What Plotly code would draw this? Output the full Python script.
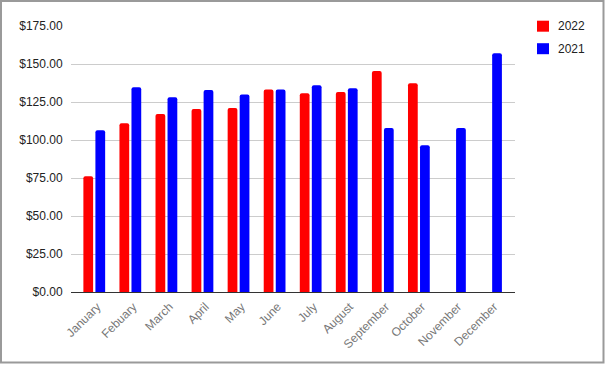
import plotly.graph_objects as go

months = ["January", "Febuary", "March", "April", "May", "June", "July",
          "August", "September", "October", "November", "December"]
sales_2022 = [76.1, 111.0, 117.1, 120.4, 121.1, 133.3, 130.7, 131.6, 145.4, 137.3, None, None]
sales_2021 = [106.4, 134.7, 128.1, 132.9, 130.0, 133.3, 136.0, 134.0, 107.9, 96.5, 107.9, 157.0]
series_names = ["2022", "2021"]
series_colors = ["#ff0000", "#0000ff"]
y_ticks = [0, 25, 50, 75, 100, 125, 150, 175]
y_tick_labels = ["$%.2f" % v for v in y_ticks]

W, H = 606, 365
L, R, T, B = 71, 515, 26, 292

fig = go.Figure()
for name, vals, col in zip(series_names, [sales_2022, sales_2021], series_colors):
    fig.add_trace(go.Bar(x=months, y=vals, name=name,
                         marker=dict(color=col, line_width=0)))

def px_x(x):
    return (x - L) / (R - L)

def px_y(y):
    return (B - y) / (B - T)

# outer chart border
fig.add_shape(type="rect", xref="paper", yref="paper",
              x0=px_x(1), x1=px_x(603.5), y0=px_y(362.5), y1=px_y(1),
              line=dict(color="#9a9a9a", width=2), fillcolor="rgba(0,0,0,0)", layer="above")

# legend (drawn manually for exact spacing)
for i, (name, col) in enumerate(zip(series_names, series_colors)):
    cy = 26.2 + 22.5 * i
    fig.add_shape(type="rect", xref="paper", yref="paper",
                  x0=px_x(537), x1=px_x(549), y0=px_y(cy + 5.5), y1=px_y(cy - 5.5),
                  line_width=0, fillcolor=col)
    fig.add_annotation(xref="paper", yref="paper", x=px_x(555.5), y=px_y(cy),
                       xanchor="left", yanchor="middle", text=name, showarrow=False,
                       font=dict(size=12, color="#222222"))

fig.update_layout(
    width=W, height=H,
    margin=dict(l=L, r=W - R, t=T, b=H - B, pad=0),
    paper_bgcolor="white", plot_bgcolor="white",
    barmode="group", bargap=0.333, bargroupgap=0.19, barcornerradius=2,
    font=dict(family="Arial, Liberation Sans, sans-serif", size=12, color="#222222"),
    showlegend=False,
    xaxis=dict(range=[-0.645, 11.665], tickangle=-45, showgrid=False,
               showline=True, linecolor="#333333", linewidth=1,
               ticks="", ticklabelshift=3, ticklabelstandoff=2,
               tickfont=dict(color="#777777", size=12), fixedrange=True),
    yaxis=dict(range=[0, 175], tickvals=y_ticks, ticktext=y_tick_labels,
               showgrid=True, gridcolor="#cccccc", gridwidth=1, zeroline=False,
               ticks="outside", ticklen=5, tickcolor="rgba(0,0,0,0)",
               tickfont=dict(color="#222222", size=12), fixedrange=True),
)

fig.write_html("out.html", config={"displayModeBar": False},
               post_script="document.body.style.margin='0';document.body.style.overflow='hidden';")
